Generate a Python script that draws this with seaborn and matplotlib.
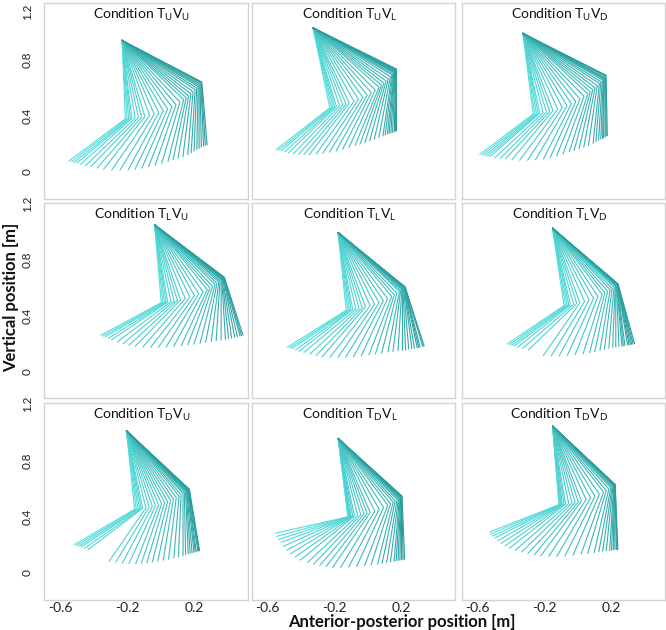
import numpy as np
import pandas as pd
import matplotlib
matplotlib.use("Agg")
import matplotlib.pyplot as plt
import seaborn as sns
from matplotlib.colors import LinearSegmentedColormap, to_hex

# ---------------- data ----------------
trunk_levels = ["U", "L", "D"]          # rows  (T subscript)
vel_levels = ["U", "L", "D"]            # cols  (V subscript)

# hip position [m] per panel (row-major)
hip_x = [-0.23, -0.33, -0.33, -0.036, -0.18, -0.153, -0.204, -0.179, -0.153]
hip_y = [0.94, 1.03, 0.99, 1.05, 0.995, 1.026, 1.01, 0.955, 1.043]
# segment lengths [m]
thigh_len = [0.56, 0.58, 0.58, 0.56, 0.56, 0.56, 0.56, 0.56, 0.56]
shank_len = [0.45, 0.44, 0.43, 0.43, 0.44, 0.44, 0.44, 0.45, 0.46]

# segment orientation per frame [deg from +x axis]
thigh_deg_UU = [-88, -87, -86, -85, -84, -82, -80, -78, -76, -73, -70, -67, -64, -61, -58,
                -55, -52, -49, -47, -45, -43, -41, -39, -37.5, -36, -35, -34, -33, -32.5, -32]
shank_deg_UU = [-138, -137, -136, -135, -133, -131, -129, -126, -123, -120, -117, -114, -112, -110, -108,
                -106, -104, -102, -100, -98, -96, -94, -93, -92, -91, -90, -89, -88, -87, -86]
thigh_deg_UL = [-80, -79, -78, -77, -76, -74, -72, -70, -68, -65, -62, -59, -56, -53, -50,
                -47, -45, -43, -41, -39, -37, -35.5, -34.5, -33.5, -33, -32.5, -32, -31.5, -31, -30.5]
shank_deg_UL = [-137, -136, -135, -133, -131, -129, -127, -125, -123, -121, -119, -117, -115, -113, -111,
                -109, -107, -105, -103, -101, -99, -97, -96, -95, -94, -93, -92, -91, -90.5, -90]
thigh_deg_UD = [-84, -83, -82, -81, -80, -78, -76, -74, -72, -69, -66, -63, -60, -57, -54,
                -51, -48, -46, -44, -42, -40, -38, -36.5, -35, -34, -33.5, -33, -32, -31.5, -31]
shank_deg_UD = [-138, -137, -136, -135, -134, -132, -130, -128, -125, -122, -119, -116, -113, -111, -109,
                -107, -105, -103, -101, -99, -97, -95, -94, -93, -92, -91, -90.5, -90, -89.5, -89]
thigh_deg_LU = [-86, -85, -84, -83, -82, -80, -78, -76, -74, -71, -68, -65, -62, -59, -56,
                -54, -52, -50, -48.5, -47, -46, -45, -44.5, -44, -43.5, -43, -42.8, -42.6, -42.4, -42.2]
shank_deg_LU = [-147, -146, -145, -143, -141, -138, -135, -132, -129, -126, -123, -120, -117, -114, -111,
                -108, -105, -102, -99, -96, -93, -90, -87, -85, -83, -81, -79, -77, -76, -75]
thigh_deg_LL = [-85, -84, -83, -82, -81, -79, -77, -75, -73, -70, -67, -64, -61, -58, -55,
                -53, -51, -49, -48, -47, -46.5, -46, -45.5, -45, -45, -44.8, -44.6, -44.5, -44.3, -44.2]
shank_deg_LL = [-143, -142, -141, -139, -137, -135, -132, -129, -126, -123, -120, -117, -114, -111, -108,
                -105, -102, -99, -96, -93, -90, -88, -86, -84, -82, -80, -79, -78, -76, -75]
thigh_deg_LD = [-83, -82, -81, -80, -79, -77, -75, -73, -70, -67, -64, -61, -58, -56, -54,
                -52, -50.5, -49, -48, -47.5, -47, -46.7, -46.5, -46.3, -46.1, -46, -45.9, -45.8, -45.7, -45.6]
shank_deg_LD = [-141, -140, -139, -138, -136, -134, -131, -120, -117, -114, -111, -108, -105, -102, -100,
                -98, -96, -94, -92, -90, -88, -86, -85, -84, -82, -81, -80, -79, -78, -77]
thigh_deg_DU = [-85, -84, -83, -82, -81, -80, -78, -76, -74, -72, -70, -68, -66, -64, -62,
                -60, -58, -56, -54.5, -53, -52, -51, -50.5, -50, -49.5, -49, -48.7, -48.4, -48.2, -48]
shank_deg_DU = [-145, -144, -143, -142, -140, -138, -120, -117, -114, -111, -108, -106, -104, -102, -100,
                -98, -96, -94, -92, -90, -89, -88, -87, -86, -85, -84.5, -84, -83, -82.5, -82]
thigh_deg_DL = [-84, -84, -83.5, -83, -83, -82.5, -82, -81, -80, -78, -76, -74, -72, -70, -67,
                -64, -61, -58, -56, -54, -52.5, -51, -50, -49.2, -48.6, -48.1, -47.7, -47.4, -47.2, -47]
shank_deg_DL = [-165, -162, -159, -156, -152, -148, -144, -140, -136, -132, -129, -126, -123, -120, -117,
                -114, -111, -108, -105, -102, -100, -98, -96, -94, -93, -92, -91, -90, -89, -88]
thigh_deg_DD = [-86, -86, -85.5, -85, -84.5, -84, -83, -82, -80, -78, -76, -74, -72, -69, -66,
                -63, -60, -57, -55, -53, -51.5, -50.5, -49.8, -49.2, -48.8, -48.5, -48.3, -48.1, -48, -48]
shank_deg_DD = [-155, -153, -151, -149, -146, -143, -140, -137, -134, -131, -128, -125, -122, -119, -116,
                -113, -110, -107, -104, -101, -99, -97, -95, -93, -92, -91, -90, -89, -88.5, -88]

thigh_deg = [thigh_deg_UU, thigh_deg_UL, thigh_deg_UD,
             thigh_deg_LU, thigh_deg_LL, thigh_deg_LD,
             thigh_deg_DU, thigh_deg_DL, thigh_deg_DD]
shank_deg = [shank_deg_UU, shank_deg_UL, shank_deg_UD,
             shank_deg_LU, shank_deg_LL, shank_deg_LD,
             shank_deg_DU, shank_deg_DL, shank_deg_DD]

x_ticks = [-0.6, -0.4, -0.2, 0.0, 0.2, 0.4]
x_ticklabels = ["-0.6", "", "-0.2", "", "0.2", ""]
y_ticks = [0.0, 0.2, 0.4, 0.6, 0.8, 1.0, 1.2]
y_ticklabels = ["0", "", "0.4", "", "0.8", "", "1.2"]

# ---------------- style ----------------
sns.set_style("white")
plt.rcParams["font.family"] = ["Lato", "DejaVu Sans"]
plt.rcParams["mathtext.default"] = "regular"

W, H = 666, 630
fig = plt.figure(figsize=(W / 100, H / 100), dpi=100)

col_l = [44, 252, 462]
col_r = [248, 455, 665]
row_t = [3, 203, 403]
row_b = [199, 398, 600]

cmap = LinearSegmentedColormap.from_list("tq", ["#55dede", "#2a9c9c"])
spine_c = "#d4d4d4"

for r in range(3):
    for c in range(3):
        k = r * 3 + c
        ax = fig.add_axes([col_l[c] / W, 1 - row_b[r] / H,
                           (col_r[c] - col_l[c]) / W, (row_b[r] - row_t[r]) / H])
        a = np.deg2rad(np.array(thigh_deg[k]))
        b = np.deg2rad(np.array(shank_deg[k]))
        n = len(a)
        kx = hip_x[k] + thigh_len[k] * np.cos(a)
        ky = hip_y[k] + thigh_len[k] * np.sin(a)
        axx = kx + shank_len[k] * np.cos(b)
        ayy = ky + shank_len[k] * np.sin(b)
        rows = []
        for i in range(n):
            f = f"f{i:02d}"
            rows.append((f, 0, hip_x[k], hip_y[k]))
            rows.append((f, 1, kx[i], ky[i]))
            rows.append((f, 2, axx[i], ayy[i]))
        df = pd.DataFrame(rows, columns=["frame", "joint", "x", "y"])
        pal = {f"f{i:02d}": to_hex(cmap(i / (n - 1))) for i in range(n)}
        sns.lineplot(data=df, x="x", y="y", hue="frame", palette=pal,
                     estimator=None, sort=False, legend=False,
                     linewidth=0.8, ax=ax)
        ax.set_xlim(-0.695, 0.52)
        ax.set_ylim(-0.193, 1.207)
        ax.set_xlabel("")
        ax.set_ylabel("")
        ax.set_xticks(x_ticks)
        ax.set_yticks(y_ticks)
        if r == 2:
            ax.set_xticklabels(x_ticklabels, fontsize=10)
        else:
            ax.set_xticklabels([""] * len(x_ticks))
        if c == 0:
            ax.set_yticklabels(y_ticklabels, fontsize=8.5, rotation=90, va="center")
            if r == 0:
                ax.get_yticklabels()[-1].set_va("top")
        else:
            ax.set_yticklabels([""] * len(y_ticks))
        ax.tick_params(axis="both", direction="in", length=3, width=0.8,
                       color="#bdbdbd", labelcolor="#222222")
        ax.tick_params(axis="x", pad=1.5)
        ax.tick_params(axis="y", pad=8)
        for s in ax.spines.values():
            s.set_color(spine_c)
            s.set_linewidth(1.0)
        title = (r"Condition T$_{\mathregular{%s}}$V$_{\mathregular{%s}}$"
                 % (trunk_levels[r], vel_levels[c]))
        ax.text(0.48, 0.94, title, transform=ax.transAxes, ha="center",
                va="center", fontsize=10, color="#111111")

fig.text(11 / W, 1 - 297 / H, "Vertical position [m]", rotation=90,
         ha="center", va="center", fontsize=12, fontweight="bold", color="#111111")
fig.text(402 / W, 1 - 622 / H, "Anterior-posterior position [m]",
         ha="center", va="center", fontsize=12, fontweight="bold", color="#111111")

fig.savefig("out.png", dpi=100)
